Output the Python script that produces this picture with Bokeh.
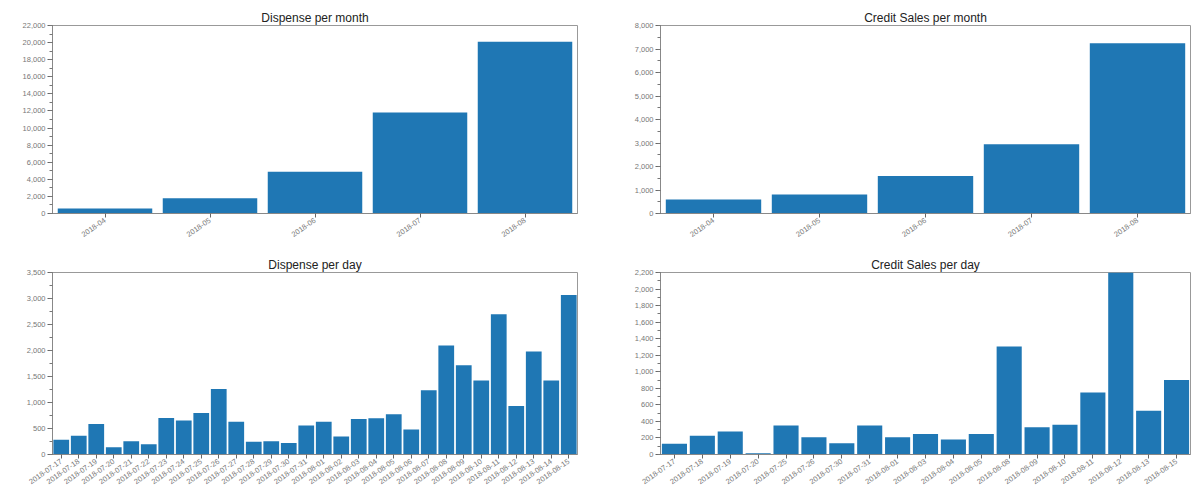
import math
from bokeh.plotting import figure
from bokeh.models import Range1d, FactorRange, SingleIntervalTicker, NumeralTickFormatter, ColumnDataSource
from bokeh.layouts import gridplot
from bokeh.embed import file_html
from bokeh.resources import INLINE

# ---- data ----
months = ["2018-04", "2018-05", "2018-06", "2018-07", "2018-08"]
dispense_month = [585, 1790, 4880, 11820, 20090]
credit_month = [595, 807, 1600, 2945, 7250]

dispense_days = ["2018-07-17", "2018-07-18", "2018-07-19", "2018-07-20", "2018-07-21",
                 "2018-07-22", "2018-07-23", "2018-07-24", "2018-07-25", "2018-07-26",
                 "2018-07-27", "2018-07-28", "2018-07-29", "2018-07-30", "2018-07-31",
                 "2018-08-01", "2018-08-02", "2018-08-03", "2018-08-04", "2018-08-05",
                 "2018-08-06", "2018-08-07", "2018-08-08", "2018-08-09", "2018-08-10",
                 "2018-08-11", "2018-08-12", "2018-08-13", "2018-08-14", "2018-08-15"]
dispense_day = [283, 360, 585, 141, 257, 199, 701, 656, 797, 1260,
                630, 244, 257, 219, 559, 630, 347, 682, 695, 772,
                482, 1235, 2097, 1717, 1421, 2695, 932, 1981, 1421, 3068]

credit_days = ["2018-07-17", "2018-07-18", "2018-07-19", "2018-07-20", "2018-07-25",
               "2018-07-26", "2018-07-30", "2018-07-31", "2018-08-01", "2018-08-03",
               "2018-08-04", "2018-08-05", "2018-08-08", "2018-08-09", "2018-08-10",
               "2018-08-11", "2018-08-12", "2018-08-13", "2018-08-15"]
credit_day = [129, 226, 279, 16, 352, 210, 137, 352, 210, 247,
              182, 247, 1306, 328, 360, 748, 2200, 530, 902]

BAR = "#1f77b4"
FONT = "Liberation Sans"


def make(title, cats, vals, ymax, step, borders):
    left, right, top, bottom = borders
    p = figure(width=600, height=250, output_backend="svg", toolbar_location=None,
               x_range=FactorRange(factors=cats), y_range=Range1d(0, ymax),
               min_border_left=left, min_border_right=right,
               min_border_top=top, min_border_bottom=bottom)
    src = ColumnDataSource(dict(x=cats, y=vals))
    p.vbar(x="x", top="y", width=0.9, source=src, fill_color=BAR, line_color=None)
    p.title.text = title
    p.title.align = "center"
    p.title.text_font = FONT
    p.title.text_font_size = "12px"
    p.title.text_font_style = "normal"
    p.title.text_color = "#222222"
    p.title.standoff = 1
    p.xgrid.visible = False
    p.ygrid.visible = False
    p.outline_line_color = "#999999"
    p.outline_line_width = 1
    p.background_fill_color = "white"
    p.border_fill_color = "white"

    p.yaxis.ticker = SingleIntervalTicker(interval=step, num_minor_ticks=2)
    p.yaxis.formatter = NumeralTickFormatter(format="0,0")
    for ax in (p.xaxis[0], p.yaxis[0]):
        ax.axis_line_color = "#888888"
        ax.major_tick_line_color = "#666666"
        ax.minor_tick_line_color = "#777777"
        ax.major_tick_in = 0
        ax.major_tick_out = 5
        ax.minor_tick_in = 0
        ax.minor_tick_out = 3
        ax.major_label_text_font = FONT
        ax.major_label_text_font_size = "7.5px"
        ax.major_label_text_color = "#777777"
        ax.major_label_standoff = 2
    p.xaxis.major_tick_out = 4
    p.xaxis.major_label_orientation = 0.61
    p.x_range.range_padding = 0
    return p


p1 = make("Dispense per month", months, dispense_month, 22000, 2000, (52, 23, 25, 37))
p2 = make("Credit Sales per month", months, credit_month, 8000, 1000, (60, 10, 25, 37))
p3 = make("Dispense per day", dispense_days, dispense_day, 3500, 500, (48, 23, 22, 46))
p4 = make("Credit Sales per day", credit_days, credit_day, 2200, 200, (60, 10, 22, 46))

grid = gridplot([[p1, p2], [p3, p4]], toolbar_location=None)
open("out.html", "w").write(file_html(grid, INLINE))
